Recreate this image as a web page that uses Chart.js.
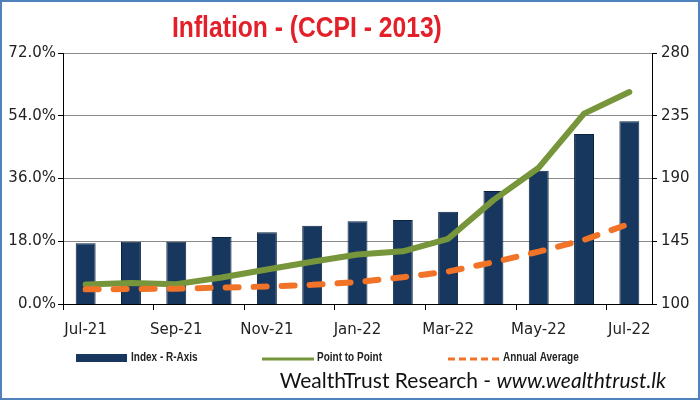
<!DOCTYPE html>
<html>
<head>
<meta charset="utf-8">
<script src="https://cdn.jsdelivr.net/npm/chart.js@4.4.1/dist/chart.umd.min.js"></script>
<style>
  html, body { margin: 0; padding: 0; background: #fff; }
  #wrap   { position: relative; width: 700px; height: 400px; overflow: hidden; background: #fff; }
  #frame  { position: absolute; left: 0; top: 0; width: 696px; height: 396px; border: 2px solid #4f81bd; pointer-events: none; }
  #title  { position: absolute; left: 172px; top: 11px; color: #e3202a; white-space: nowrap;
            font: bold 29px 'Liberation Sans', sans-serif; line-height: 32px;
            transform: scaleX(0.85); transform-origin: 0 0; }
  #footer { position: absolute; right: 34px; top: 367px; color: #111; white-space: nowrap;
            font: 21px Lato, 'Open Sans', sans-serif; line-height: 26px; }
  #footer i { font-style: italic; }
</style>
</head>
<body>
<div id="wrap">
  <canvas id="chart" width="700" height="400"></canvas>
  <div id="title">Inflation - (CCPI - 2013)</div>
  <div id="footer">WealthTrust Research - <i>www.wealthtrust.lk</i></div>
  <div id="frame"></div>
</div>
<script>
// ---- data ----
const MONTHS = ['Jul-21','Aug-21','Sep-21','Oct-21','Nov-21','Dec-21','Jan-22',
                'Feb-22','Mar-22','Apr-22','May-22','Jun-22','Jul-22'];
const CCPI_INDEX     = [143.5, 144.7, 144.6, 148.1, 151.4, 156.2, 159.3, 160.3, 166.2, 181.1, 195.6, 222.0, 231.1];
const POINT_TO_POINT = [5.6, 6.0, 5.7, 7.6, 9.9, 12.1, 14.2, 15.1, 18.7, 29.8, 39.1, 54.6, 60.8];
const ANNUAL_AVERAGE = [4.2, 4.3, 4.4, 4.7, 5.0, 5.5, 6.3, 7.7, 9.3, 12.0, 15.0, 18.4, 23.0];
const PCT_RANGE   = [0, 72, 18];     // min, max, step (left axis)
const INDEX_RANGE = [100, 280, 45];  // min, max, step (right axis)

const NAVY   = '#17375e';
const GREEN  = '#77953b';
const ORANGE = '#f07328';
const TICK_FONT = { family: 'DejaVu Sans', size: 15 };

// legend row drawn under the axis, items at fixed x slots
const LEGEND_X = [76, 262, 448];
const legendRow = {
  id: 'legendRow',
  afterDraw(chart) {
    const { ctx } = chart;
    const y = 358;
    chart.data.datasets.forEach((ds, i) => {
      const x = LEGEND_X[i];
      ctx.save();
      if (ds.type === 'bar') {
        ctx.fillStyle = ds.backgroundColor;
        ctx.fillRect(x, y - 4, 51, 8);
      } else {
        ctx.strokeStyle = ds.borderColor;
        ctx.lineWidth   = 3;
        ctx.setLineDash(ds.borderDash ? [7, 4] : []);
        ctx.beginPath();
        ctx.moveTo(x, y + 1);
        ctx.lineTo(x + 52, y + 1);
        ctx.stroke();
        ctx.setLineDash([]);
      }
      // condensed label text
      ctx.translate(x + 55, y);
      ctx.scale(0.8, 1);
      ctx.fillStyle    = '#222';
      ctx.font         = 'bold 12.5px "Liberation Sans", sans-serif';
      ctx.textBaseline = 'middle';
      ctx.fillText(ds.label, 0, 0);
      ctx.restore();
    });
  },
};

new Chart(document.getElementById('chart'), {
  type: 'bar',
  data: {
    labels: MONTHS,
    datasets: [
      {
        type:               'bar',
        label:              'Index - R-Axis',
        data:               CCPI_INDEX,
        yAxisID:            'y1',
        backgroundColor:    NAVY,
        borderColor:        '#0c2340',
        borderWidth:        1,
        barPercentage:      0.44,
        categoryPercentage: 1,
        order:              3,
      },
      {
        type:             'line',
        label:            'Point to Point',
        data:             POINT_TO_POINT,
        yAxisID:          'y',
        borderColor:      GREEN,
        borderWidth:      6,
        borderCapStyle:   'round',
        borderJoinStyle:  'round',
        pointRadius:      0,
        tension:          0,
        order:            2,
      },
      {
        type:             'line',
        label:            'Annual Average',
        data:             ANNUAL_AVERAGE,
        yAxisID:          'y',
        borderColor:      ORANGE,
        borderWidth:      6,
        borderDash:       [13, 15],
        borderCapStyle:   'round',
        pointRadius:      0,
        tension:          0,
        order:            1,
      },
    ],
  },
  options: {
    responsive: false,
    animation:  false,
    devicePixelRatio: 1,
    layout: { padding: { top: 53, left: 0, right: 0, bottom: 56 } },
    plugins: {
      legend:  { display: false },
      tooltip: { enabled: false },
    },
    scales: {
      x: {
        offset: true,
        border: { color: '#000', width: 1 },
        grid: {
          offset: true,
          drawOnChartArea: false,
          tickLength: 6,
          tickColor: c => (c.index % 2 === 0 ? '#000' : 'rgba(0,0,0,0)'),
        },
        ticks: {
          autoSkip: false,
          maxRotation: 0,
          padding: 11,
          color: '#222',
          font: TICK_FONT,
          callback: (v, i) => (i % 2 === 0 ? MONTHS[i] : ''),
        },
        afterFit: s => { s.height = 40; },
      },
      y: {
        position: 'left',
        min: PCT_RANGE[0], max: PCT_RANGE[1],
        border: { color: '#000', width: 1 },
        grid: { color: '#8a8a8a', lineWidth: 1, tickColor: '#000', tickLength: 5 },
        ticks: {
          stepSize: PCT_RANGE[2],
          padding: 2,
          color: '#222',
          font: TICK_FONT,
          callback: v => v.toFixed(1) + '%',
        },
        afterFit: s => { s.width = 63; },
      },
      y1: {
        position: 'right',
        min: INDEX_RANGE[0], max: INDEX_RANGE[1],
        border: { color: '#000', width: 1 },
        grid: { drawOnChartArea: false, tickColor: '#000', tickLength: 5 },
        ticks: {
          stepSize: INDEX_RANGE[2],
          padding: 4,
          color: '#222',
          font: TICK_FONT,
        },
        afterFit: s => { s.width = 48; },
      },
    },
  },
  plugins: [legendRow],
});
</script>
</body>
</html>
